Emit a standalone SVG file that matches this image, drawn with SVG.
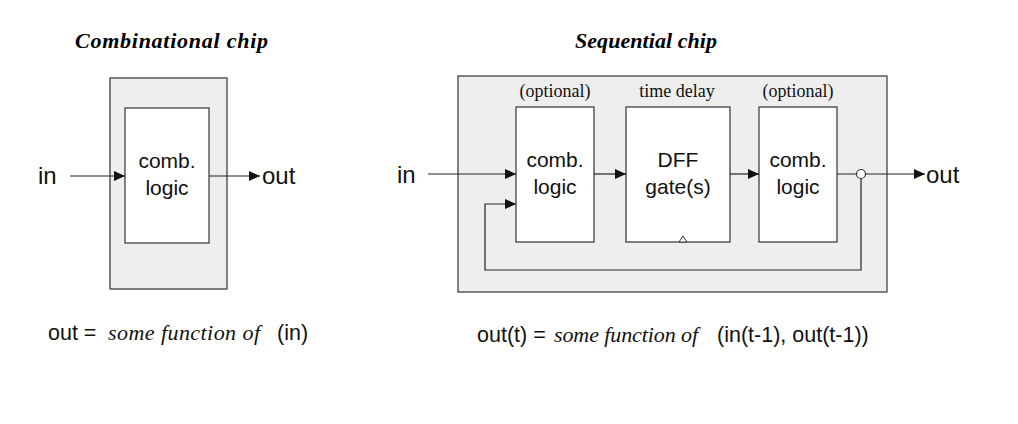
<svg xmlns="http://www.w3.org/2000/svg" width="1018" height="424" viewBox="0 0 1018 424">
<style>
.chip{fill:#eeeeee;stroke:#333;stroke-width:1.2}
.blk{fill:#fff;stroke:#333;stroke-width:1.2}
.wire{fill:none;stroke:#222;stroke-width:1.2}
.title{font-family:"Liberation Serif",serif;font-weight:bold;font-style:italic;font-size:22px;fill:#000}
.lbl{font-family:"Liberation Sans",Arial,sans-serif;font-size:21px;fill:#111}
.io{font-family:"Liberation Sans",Arial,sans-serif;font-size:24px;fill:#111}
.note{font-family:"Liberation Serif",serif;font-size:18px;fill:#111}
.f{font-family:"Liberation Sans",Arial,sans-serif;font-size:21.5px;fill:#111}
.fi{font-family:"Liberation Serif",serif;font-style:italic;font-size:22px}
</style>
<defs>
<marker id="ah" markerUnits="userSpaceOnUse" markerWidth="12" markerHeight="10" refX="11" refY="5" orient="auto">
<path d="M0,0 L11,5 L0,10 Z" fill="#111"/>
</marker>
</defs>
<rect width="1018" height="424" fill="#fff"/>

<g id="combinational">
<text class="title" x="75" y="48" textLength="193" lengthAdjust="spacing">Combinational chip</text>
<rect class="chip" x="110" y="78" width="117" height="211"/>
</g>
<g id="comb0">
<rect class="blk" x="125" y="108" width="84" height="135"/>
<text class="lbl" x="167" y="168" text-anchor="middle">comb.</text>
<text class="lbl" x="167" y="195" text-anchor="middle">logic</text>
</g>
<g id="in0"><text class="io" x="38" y="184">in</text></g>
<g id="out0"><text class="io" x="262" y="184">out</text></g>
<g id="formula0">
<text class="f" x="48" y="340">out = <tspan class="fi" x="108" textLength="152" lengthAdjust="spacing">some function of</tspan><tspan x="277">(in)</tspan></text>
</g>

<g id="sequential">
<text class="title" x="575" y="48" textLength="142" lengthAdjust="spacing">Sequential chip</text>
<rect class="chip" x="458" y="76" width="429" height="216"/>
</g>
<g id="comb1">
<text class="note" x="555" y="97" text-anchor="middle">(optional)</text>
<rect class="blk" x="516" y="107" width="78" height="135"/>
<text class="lbl" x="555" y="167" text-anchor="middle">comb.</text>
<text class="lbl" x="555" y="194" text-anchor="middle">logic</text>
</g>
<g id="dff">
<text class="note" x="677" y="97" text-anchor="middle">time delay</text>
<rect class="blk" x="626" y="107" width="104" height="135"/>
<text class="lbl" x="678" y="167" text-anchor="middle">DFF</text>
<text class="lbl" x="678" y="194" text-anchor="middle">gate(s)</text>
<polygon points="679,242 683,236 687,242" fill="#fff" stroke="#333" stroke-width="1"/>
</g>
<g id="comb2">
<text class="note" x="798" y="97" text-anchor="middle">(optional)</text>
<rect class="blk" x="759" y="107" width="78" height="135"/>
<text class="lbl" x="798" y="167" text-anchor="middle">comb.</text>
<text class="lbl" x="798" y="194" text-anchor="middle">logic</text>
</g>
<g id="in1"><text class="io" x="397" y="183">in</text></g>
<g id="out1"><text class="io" x="926" y="183">out</text></g>
<g id="formula1">
<text class="f" x="477" y="342">out(t) = <tspan class="fi" x="554" textLength="144" lengthAdjust="spacing">some function of</tspan><tspan x="717">(in(t-1), out(t-1))</tspan></text>
</g>

<g id="connectors">
<line class="wire" x1="70" y1="176" x2="125" y2="176" marker-end="url(#ah)"/>
<line class="wire" x1="209" y1="176" x2="260" y2="176" marker-end="url(#ah)"/>
<line class="wire" x1="428" y1="174" x2="516" y2="174" marker-end="url(#ah)"/>
<line class="wire" x1="594" y1="174" x2="626" y2="174" marker-end="url(#ah)"/>
<line class="wire" x1="730" y1="174" x2="759" y2="174" marker-end="url(#ah)"/>
<line class="wire" x1="837" y1="174" x2="925" y2="174" marker-end="url(#ah)"/>
<polyline class="wire" points="861,179 861,270 485,270 485,204 516,204" marker-end="url(#ah)"/>
<circle cx="861" cy="174" r="4.5" fill="#fff" stroke="#333" stroke-width="1.2"/>
</g>
</svg>
